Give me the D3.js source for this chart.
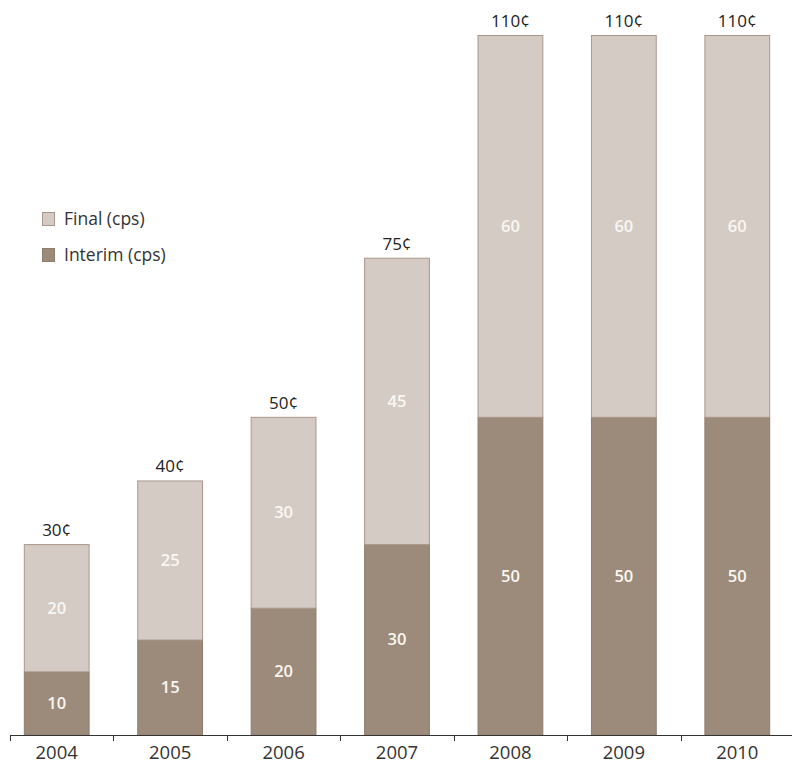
<!DOCTYPE html>
<html>
<head>
<meta charset="utf-8">
<script src="https://cdn.jsdelivr.net/npm/d3@7"></script>
<style>
  html, body { margin: 0; padding: 0; background: #fff; }
  svg { display: block; font-family: "Open Sans", "Noto Sans", sans-serif; }
</style>
</head>
<body>
<svg id="chart" width="792" height="764"></svg>
<script>
const years = ["2004", "2005", "2006", "2007", "2008", "2009", "2010"];
const interim = [10, 15, 20, 30, 50, 50, 50];
const final = [20, 25, 30, 45, 60, 60, 60];
const totalLabels = ["30¢", "40¢", "50¢", "75¢", "110¢", "110¢", "110¢"];
const seriesNames = ["Final (cps)", "Interim (cps)"];

const colors = {
  final: "#d4cbc5", finalStroke: "#ab978a",
  interim: "#9c8b7a", interimStroke: "#8f7d6c"
};

const svg = d3.select("#chart");
const x = d3.scaleBand().domain(years).range([0, 794]).paddingInner(0.42).paddingOuter(0.21);
const y = d3.scaleLinear().domain([0, 110]).range([735, 35]);

const data = years.map((yr, i) => ({ year: yr, interim: interim[i], final: final[i], label: totalLabels[i] }));
const stack = d3.stack().keys(["interim", "final"])(data);

const g = svg.append("g");
stack.forEach(layer => {
  const key = layer.key;
  g.selectAll(null).data(layer).enter().append("rect")
    .attr("x", d => x(d.data.year) + 0.5)
    .attr("y", d => y(d[1]) + 0.5)
    .attr("width", x.bandwidth() - 1)
    .attr("height", d => y(d[0]) - y(d[1]) - (key === "interim" ? 0.5 : 0))
    .attr("fill", colors[key])
    .attr("stroke", colors[key + "Stroke"])
    .attr("stroke-width", 1);
  g.selectAll(null).data(layer).enter().append("text")
    .attr("x", d => x(d.data.year) + x.bandwidth() / 2)
    .attr("y", d => (y(d[0]) + y(d[1])) / 2)
    .attr("dy", "0.36em")
    .attr("text-anchor", "middle")
    .attr("fill", "#faf7f3")
    .attr("font-size", 16.5)
    .attr("font-weight", 600)
    .text(d => d.data[key]);
});

// totals
g.selectAll(null).data(data).enter().append("text")
  .attr("x", d => x(d.year) + x.bandwidth() / 2)
  .attr("y", d => y(d.interim + d.final) - 8)
  .attr("text-anchor", "middle")
  .attr("fill", "#222")
  .attr("font-size", 17)
  .text(d => d.label);

// axis
const axis = svg.append("g");
axis.append("line").attr("x1", 10).attr("x2", 792).attr("y1", 735.5).attr("y2", 735.5)
  .attr("stroke", "#333").attr("stroke-width", 1);
const tickXs = [10].concat(years.slice(1).map(yr => x(yr) - x.step() * x.paddingInner() / 2));
axis.selectAll(null).data(tickXs).enter().append("line")
  .attr("x1", d => Math.round(d) + 0.5).attr("x2", d => Math.round(d) + 0.5)
  .attr("y1", 735).attr("y2", 741)
  .attr("stroke", "#333").attr("stroke-width", 1);
axis.selectAll(null).data(years).enter().append("text")
  .attr("x", d => x(d) + x.bandwidth() / 2)
  .attr("y", 758.5)
  .attr("text-anchor", "middle")
  .attr("fill", "#333")
  .attr("font-size", 18.5)
  .text(d => d);

// legend
const legend = svg.append("g");
const legendColors = [[colors.final, colors.finalStroke], [colors.interim, colors.interimStroke]];
seriesNames.forEach((name, i) => {
  const ly = 212 + i * 36;
  legend.append("rect").attr("x", 42.5).attr("y", ly + 0.5).attr("width", 12).attr("height", 13)
    .attr("fill", legendColors[i][0]).attr("stroke", legendColors[i][1]);
  legend.append("text").attr("x", 64).attr("y", ly + 12.5)
    .attr("fill", "#333").attr("font-size", 17.5).text(name);
});
</script>
</body>
</html>
